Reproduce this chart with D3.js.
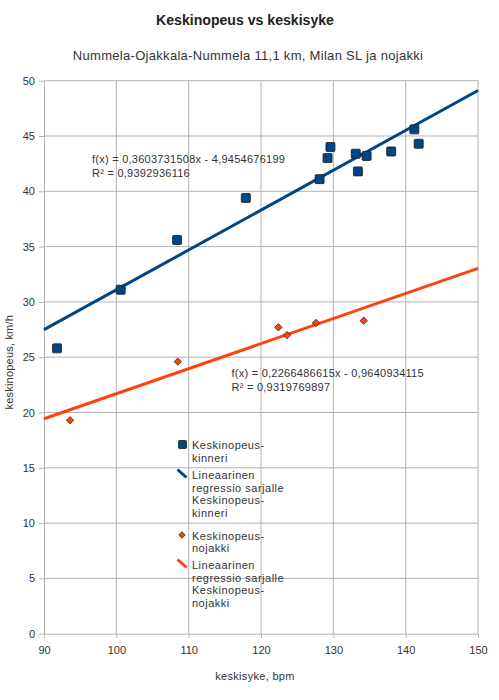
<!DOCTYPE html>
<html>
<head>
<meta charset="utf-8">
<script src="https://cdn.jsdelivr.net/npm/d3@7"></script>
<style>
  body { margin: 0; background: #fff; }
  svg { display: block; font-family: "Liberation Sans", Arial, sans-serif; }
  .grid line { stroke: #b3b3b3; stroke-width: 1; }
  .axis path, .axis line { stroke: #b3b3b3; }
  .axis text { fill: #333; font-size: 11px; }
  .lbl { fill: #333; font-size: 11px; }
</style>
</head>
<body>
<div id="chart"></div>
<script>
const title = 'Keskinopeus vs keskisyke';
const subtitle = 'Nummela-Ojakkala-Nummela 11,1 km, Milan SL ja nojakki';
const xLabel = 'keskisyke, bpm';
const yLabel = 'keskinopeus, km/h';

const xTicks = [90, 100, 110, 120, 130, 140, 150];
const yTicks = [0, 5, 10, 15, 20, 25, 30, 35, 40, 45, 50];

// Keskinopeus-kinneri: [syke, nopeus]
const kinneri = [
  [91.8, 25.8], [100.6, 31.1], [108.4, 35.6], [117.9, 39.4],
  [128.1, 41.1], [129.2, 43.0], [129.6, 44.0], [133.1, 43.4],
  [133.4, 41.8], [134.6, 43.2], [138.0, 43.6], [141.2, 45.6],
  [141.8, 44.3]
];
// Keskinopeus-nojakki
const nojakki = [
  [93.6, 19.3], [108.5, 24.6], [122.4, 27.7], [123.6, 27.0],
  [127.6, 28.1], [134.2, 28.3]
];

const fitKinneri = { slope: 0.3603731508, icept: -4.9454676199,
  eq: 'f(x) = 0,3603731508x - 4,9454676199', r2: 'R² = 0,9392936116' };
const fitNojakki = { slope: 0.2266486615, icept: -0.9640934115,
  eq: 'f(x) = 0,2266486615x - 0,9640934115', r2: 'R² = 0,9319769897' };

const legendItems = [
  { kind: 'square', color: '#004586', lines: ['Keskinopeus-', 'kinneri'], gap: 5 },
  { kind: 'line', color: '#004586', lines: ['Lineaarinen', 'regressio sarjalle', 'Keskinopeus-', 'kinneri'], gap: 10.5 },
  { kind: 'diamond', color: '#ff420e', lines: ['Keskinopeus-', 'nojakki'], gap: 4.5 },
  { kind: 'line', color: '#ff420e', lines: ['Lineaarinen', 'regressio sarjalle', 'Keskinopeus-', 'nojakki'], gap: 0 }
];

const width = 499, height = 700;
const plot = { left: 44, right: 478, top: 80.7, bottom: 633.7 };

const svg = d3.select('#chart').append('svg')
  .attr('width', width).attr('height', height);

const x = d3.scaleLinear().domain([90, 150]).range([plot.left, plot.right]);
const y = d3.scaleLinear().domain([0, 50]).range([plot.bottom, plot.top]);

svg.append('text').attr('x', 245).attr('y', 25).attr('text-anchor', 'middle')
  .attr('font-size', 14.1).attr('font-weight', 'bold').attr('fill', '#222')
  .text(title);
svg.append('text').attr('x', 248).attr('y', 60).attr('text-anchor', 'middle')
  .attr('font-size', 13).attr('letter-spacing', 0.3).attr('fill', '#333').text(subtitle);

// grid
const grid = svg.append('g').attr('class', 'grid');
grid.selectAll('.gx').data(xTicks.slice(1)).join('line')
  .attr('x1', d => x(d)).attr('x2', d => x(d))
  .attr('y1', plot.top).attr('y2', plot.bottom);
grid.selectAll('.gy').data(yTicks.slice(1)).join('line')
  .attr('x1', plot.left).attr('x2', plot.right)
  .attr('y1', d => y(d)).attr('y2', d => y(d));

svg.append('g').attr('class', 'axis')
  .attr('transform', `translate(0,${plot.bottom})`)
  .call(d3.axisBottom(x).tickValues(xTicks).tickSize(4).tickPadding(6).tickSizeOuter(0))
  .call(g => g.selectAll('text').attr('dy', '0.9em'));

svg.append('g').attr('class', 'axis')
  .attr('transform', `translate(${plot.left},0)`)
  .call(d3.axisLeft(y).tickValues(yTicks).tickSize(5).tickPadding(4).tickSizeOuter(0));

svg.append('text').attr('class', 'lbl').attr('x', 255).attr('y', 680)
  .attr('text-anchor', 'middle').attr('letter-spacing', 0.3).text(xLabel);
svg.append('text').attr('class', 'lbl')
  .attr('transform', `translate(13,${y(25) + 5}) rotate(-90)`)
  .attr('text-anchor', 'middle').attr('letter-spacing', 0.2).text(yLabel);

// regression lines over the full x range
function drawFit(fit, color) {
  const pts = x.domain().map(v => [v, fit.slope * v + fit.icept]);
  svg.append('line')
    .attr('x1', x(pts[0][0])).attr('y1', y(pts[0][1]))
    .attr('x2', x(pts[1][0])).attr('y2', y(pts[1][1]))
    .attr('stroke', color).attr('stroke-width', 3);
}
drawFit(fitKinneri, '#004586');
drawFit(fitNojakki, '#ff420e');

// points
svg.append('g').selectAll('rect').data(kinneri).join('rect')
  .attr('x', d => x(d[0]) - 4.5).attr('y', d => y(d[1]) - 4.5)
  .attr('width', 9).attr('height', 9).attr('rx', 1)
  .attr('fill', '#004586').attr('stroke', '#1a1a1a').attr('stroke-width', 0.8);

const diamond = d3.symbol().type(d3.symbolDiamond2).size(34);
svg.append('g').selectAll('path').data(nojakki).join('path')
  .attr('d', diamond)
  .attr('transform', d => `translate(${x(d[0])},${y(d[1])})`)
  .attr('fill', '#ff420e').attr('stroke', '#3a1a10').attr('stroke-width', 0.8);

// equations
function drawEq(fit, px, py) {
  const t = svg.append('text').attr('class', 'lbl').attr('font-size', 12)
    .attr('letter-spacing', 0.25);
  t.append('tspan').attr('x', px).attr('y', py).text(fit.eq);
  t.append('tspan').attr('x', px).attr('y', py + 14).text(fit.r2);
}
drawEq(fitKinneri, 92, 162.5);
drawEq(fitNojakki, 231.5, 376.5);

// legend
const legend = svg.append('g').attr('class', 'legend');
const lineH = 12.5;
let ly = 449;
legendItems.forEach(item => {
  const g = legend.append('g');
  const cy = ly - 4.5;
  if (item.kind === 'square') {
    g.append('rect').attr('x', 178.5).attr('y', cy - 4).attr('width', 8).attr('height', 8)
      .attr('rx', 1).attr('fill', item.color).attr('stroke', '#1a1a1a').attr('stroke-width', 0.8);
  } else if (item.kind === 'diamond') {
    g.append('path').attr('d', d3.symbol().type(d3.symbolDiamond2).size(26))
      .attr('transform', `translate(182,${cy})`)
      .attr('fill', item.color).attr('stroke', '#3a1a10').attr('stroke-width', 0.8);
  } else {
    g.append('line').attr('x1', 177.5).attr('y1', cy - 5).attr('x2', 186.5).attr('y2', cy + 3)
      .attr('stroke', item.color).attr('stroke-width', 3);
  }
  const t = g.append('text').attr('class', 'lbl').attr('letter-spacing', 0.5);
  item.lines.forEach((s, i) => {
    t.append('tspan').attr('x', 192).attr('y', ly + i * lineH).text(s);
  });
  ly += item.lines.length * lineH + item.gap;
});
</script>
</body>
</html>
